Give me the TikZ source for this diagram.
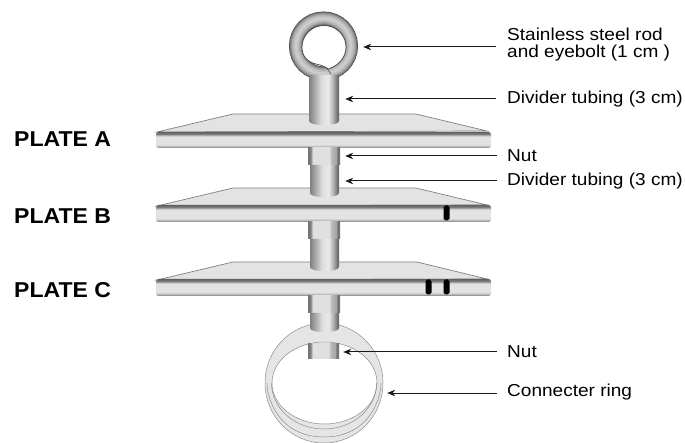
\documentclass[tikz,border=0pt]{standalone}
\usepackage{fontspec}
\setmainfont[FakeStretch=1.1]{Liberation Sans}
\newfontfamily\platefont[FakeStretch=1.07]{Liberation Sans}
\usetikzlibrary{arrows.meta}
\pgfdeclarehorizontalshading{tubeshade}{100bp}{
 color(0bp)=(black!50); color(25bp)=(black!50); color(32bp)=(black!38); color(45bp)=(black!14); color(57bp)=(black!8); color(65bp)=(black!30); color(72bp)=(black!55); color(75bp)=(black!62); color(100bp)=(black!62)}
\pgfdeclarehorizontalshading{nutshade}{100bp}{
 color(0bp)=(black!55); color(25bp)=(black!55); color(29bp)=(black!50); color(31bp)=(black!28); color(33bp)=(black!12); color(58bp)=(black!12); color(62bp)=(black!28); color(69bp)=(black!35); color(71bp)=(black!55); color(75bp)=(black!55); color(100bp)=(black!55)}
\pgfdeclareverticalshading{barshade}{100bp}{
 color(0bp)=(black!58); color(25bp)=(black!58); color(27bp)=(black!45); color(31bp)=(black!25); color(36bp)=(black!11); color(60bp)=(black!11); color(64bp)=(black!22); color(68bp)=(black!50); color(75bp)=(black!62); color(100bp)=(black!62)}
\tikzset{
 platetop/.style={fill=black!11,draw=black!50,line width=0.7pt},
 barbox/.style={rounded corners=2.5pt,shading=barshade},
 tube/.style={shading=tubeshade},
 nut/.style={shading=nutshade},
 notch/.style={fill=black,rounded corners=1.8pt},
 ringline/.style={draw=black!45,line width=0.5pt},
 leader/.style={draw=black!90,line width=1pt,-{Stealth[length=8pt,width=6.5pt]}},
 lab/.style={anchor=west,inner sep=0pt,font=\fontsize{17.3}{15.5}\selectfont},
 plate/.style={anchor=west,inner sep=0pt,font=\platefont\fontsize{21.5}{22}\selectfont\bfseries},
 pt/.style={inner sep=0pt,minimum size=0pt}
}
\begin{document}
\begin{tikzpicture}[x=1pt,y=-1pt]
\useasboundingbox (0,0) rectangle (685,443);
% ring
\fill[black!10,even odd rule] (324,383) ellipse [x radius=59,y radius=60] (324.5,383) ellipse [x radius=52.5,y radius=41];
\draw[ringline] (324,383) ellipse [x radius=59,y radius=60];
\draw[ringline] (324.5,383) ellipse [x radius=52.5,y radius=41];
\draw[ringline] (271.5,383) arc[start angle=180,end angle=360,x radius=52.5,y radius=-46];
\draw[ringline] (267,383) .. controls (267,400) and (280,437) .. (324,437) .. controls (368,437) and (381,400) .. (381,383);
% eyebolt
\foreach \w/\g in {14/72,13/60,12/52,11/46,10/41,9/37,8/33,7/30,6/28,5/26,4/24,3/22,2/20}{
 \draw[black!\g,line width=\w pt] (323.5,46) circle (27.5);
}
\fill[white,draw=black!75,line width=0.7pt] (324,25.5) .. controls (312,25.5) and (302,35) .. (302,47) .. controls (302,56) and (307,62) .. (316,64) .. controls (321,65) and (326,67) .. (328,69) .. controls (338,66) and (346,58) .. (346,47) .. controls (346,35) and (336,25.5) .. (324,25.5) -- cycle;
\draw[black!70,line width=0.6pt] (326,67) -- (331,74);
% plate A
\draw[platetop] (157,132) -- (233,114) -- (416,114) -- (487,131) -- cycle;
\path[barbox] (156,132) rectangle (491,148);
% plate B
\draw[platetop] (157,206) -- (233,188) -- (416,188) -- (487,205) -- cycle;
\path[barbox] (156,205) rectangle (491,222);
% plate C
\draw[platetop] (157,280) -- (233,262) -- (417,262) -- (487,279) -- cycle;
\path[barbox] (156,279) rectangle (491,296);
% notches
\path[notch] (443.5,205.5) rectangle (449.5,220.5);
\path[notch] (425.5,279.5) rectangle (431.5,294.5);
\path[notch] (443.5,279.5) rectangle (449.5,294.5);
% tubes and nuts
\path[tube] (309,75) -- (339,75) -- (339,121) .. controls (339,126.5) and (309,126.5) .. (309,121) -- cycle;
\path[nut] (308,148) rectangle (340,165);
\path[tube] (310,165) -- (339,165) -- (339,193) .. controls (339,198.5) and (310,198.5) .. (310,193) -- cycle;
\path[nut] (308,222) rectangle (340,239);
\path[tube] (310,239) -- (339,239) -- (339,267) .. controls (339,272.5) and (310,272.5) .. (310,267) -- cycle;
\path[nut] (308,296) rectangle (340,313);
\path[tube] (310,313) -- (339,313) -- (339,328) .. controls (339,333.5) and (310,333.5) .. (310,328) -- cycle;
\path[nut] (308,344) rectangle (339,358);
% leader targets
\node[pt] (tEye) at (363,47) {};
\node[pt] (tTube) at (345,99) {};
\node[pt] (tNut) at (345,156) {};
\node[pt] (tTubeB) at (345,181) {};
\node[pt] (tNutC) at (343,352) {};
\node[pt] (tRing) at (387,393) {};
% labels
\node[lab,align=left,font=\fontsize{17.3}{17}\selectfont] (lEye) at (507,45) {Stainless steel rod\\and eyebolt (1 cm )};
\node[lab] (lTube) at (507,99) {Divider tubing (3 cm)};
\node[lab] (lNut) at (507,156) {Nut};
\node[lab] (lTubeB) at (507,181) {Divider tubing (3 cm)};
\node[lab] (lNutC) at (507,352) {Nut};
\node[lab] (lRing) at (507,392.5) {Connecter ring};
\node[plate] (pA) at (14,139.5) {PLATE A};
\node[plate] (pB) at (14,216.5) {PLATE B};
\node[plate] (pC) at (14,290) {PLATE C};
% leaders
\draw[leader] (lEye.west)+(-11,2) -- (tEye);
\draw[leader] (lTube.west)+(-11,0) -- (tTube);
\draw[leader] (lNut.west)+(-10,0) -- (tNut);
\draw[leader] (lTubeB.west)+(-10,0) -- (tTubeB);
\draw[leader] (lNutC.west)+(-10,0) -- (tNutC);
\draw[leader] (lRing.west)+(-10,0.5) -- (tRing);
\end{tikzpicture}
\end{document}
